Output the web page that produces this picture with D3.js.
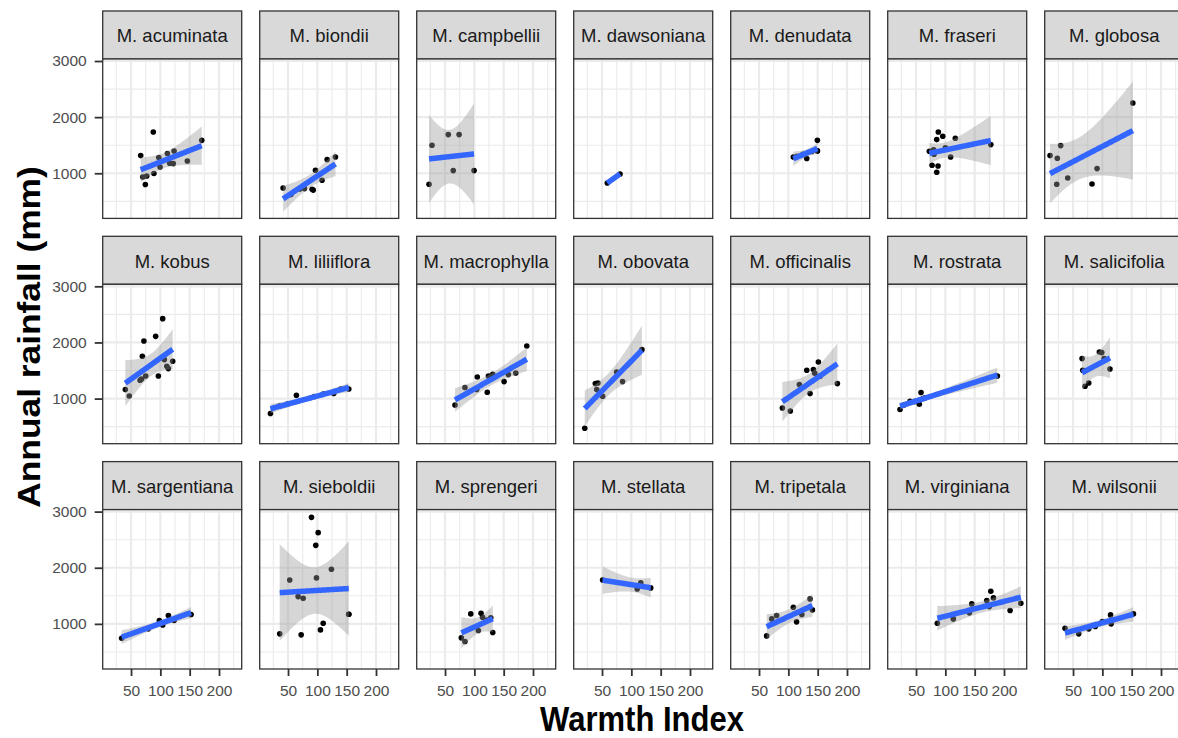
<!DOCTYPE html>
<html>
<head>
<meta charset="utf-8">
<script src="https://cdnjs.cloudflare.com/ajax/libs/d3/7.8.5/d3.min.js"></script>
<style>
    body { margin: 0; background: #fff; }
    text { font-family: 'Liberation Sans', Arial, sans-serif; }
</style>
</head>
<body>
<svg id="chart" width="1178" height="738"></svg>
<script>
(function(window) {
    'use strict';

    /******************************************************************
        data (one entry per species)
     ******************************************************************/
    var species = [
        'M. acuminata', 'M. biondii', 'M. campbellii', 'M. dawsoniana',
        'M. denudata', 'M. fraseri', 'M. globosa',
        'M. kobus', 'M. liliiflora', 'M. macrophylla', 'M. obovata',
        'M. officinalis', 'M. rostrata', 'M. salicifolia',
        'M. sargentiana', 'M. sieboldii', 'M. sprengeri', 'M. stellata',
        'M. tripetala', 'M. virginiana', 'M. wilsonii'
    ];

    // some points sit under the fitted line and are only guessed
    var warmth = [
        [66.5, 88, 70, 74.4, 76.8, 89, 97.3, 99.5, 112, 123.4, 122, 116, 146, 170.6],
        [41.6, 78, 91, 93, 96.8, 108, 116.7, 130.9, 55, 70],
        [22.7, 27.8, 55.6, 74, 64, 99.5],
        [59, 80.7],
        [108.5, 131.4, 149.5, 149.5, 115, 125, 140, 149.5],
        [72.7, 88, 95.6, 85.3, 117, 80.7, 109, 77.3, 87.5, 85.3, 177.5, 80, 100],
        [10.8, 23.2, 29, 22.2, 41, 82.4, 91, 152],
        [40.3, 47, 72, 69.3, 65.4, 75, 92, 104, 96.6, 106.8, 111, 113.6, 121, 68],
        [20, 64.3, 128, 153.6, 35, 50, 95, 110, 140],
        [67, 84, 105, 122, 124, 131.4, 150.7, 158, 170.6, 189.4, 104],
        [20.5, 38.6, 43, 41, 51, 75, 85, 118],
        [89.8, 103.4, 137, 118.8, 131.4, 142.7, 151.2, 154, 183.6, 145],
        [22.7, 39.8, 55.6, 58.5, 62, 188.7, 30, 48, 65],
        [65.4, 94.9, 99, 103, 113, 66.6, 70.5, 76.8],
        [34, 79.5, 98.3, 104, 113.7, 123.4, 152.4],
        [35.8, 52.9, 67.2, 75.8, 72.4, 90, 101.4, 97.3, 98.5, 105.3, 110, 124, 153.6, 153.6],
        [77.8, 84, 93.9, 106.8, 111.4, 114, 131.4, 122, 128],
        [51, 110, 116, 133],
        [63, 80, 108.5, 114, 71.7, 137, 141, 123],
        [86.3, 113.6, 141, 145, 170.6, 175, 177.5, 182, 210.4, 228.7],
        [36.3, 59.7, 76.8, 88, 114, 115, 153, 100]
    ];

    var rainfall = [
        [1315, 1735, 934, 799, 952, 995, 1279, 1112, 1351, 1397, 1172, 1180, 1219, 1587],
        [738, 727, 715, 700, 1053, 875, 1244, 1290, 620, 720],
        [804, 1498, 1689, 1689, 1048, 1048],
        [827, 988],
        [1290, 1262, 1587, 1397, 1302, 1337, 1389, 1400],
        [1392, 1735, 1659, 1600, 1623, 1338, 1290, 1142, 1130, 1018, 1511, 1420, 1452],
        [1315, 1267, 1493, 804, 916, 810, 1083, 2251],
        [1160, 1046, 2025, 1753, 1326, 1403, 2109, 2424, 1403, 1694, 1575, 1534, 1664, 1350],
        [733, 1059, 1089, 1171, 865, 908, 1038, 1081, 1168],
        [886, 1196, 1385, 1112, 1403, 1432, 1302, 1427, 1456, 1936, 1160],
        [471, 1267, 1278, 1160, 1041, 1473, 1302, 1872],
        [833, 779, 1089, 1249, 1504, 1516, 1651, 1397, 1267, 1450],
        [804, 952, 899, 1107, 1000, 1403, 888, 950, 1009],
        [1712, 1830, 1819, 1712, 1527, 1504, 1219, 1278],
        [744, 911, 1059, 982, 1148, 1059, 1166],
        [822, 1783, 1486, 1456, 804, 2898, 2625, 2399, 1819, 893, 1011, 1972, 1171, 1171],
        [751, 685, 1178, 881, 1189, 1117, 845, 1070, 1110],
        [1783, 1623, 1730, 1641],
        [786, 1148, 1296, 1036, 1089, 1445, 1249, 1166],
        [1011, 1089, 1196, 1356, 1415, 1308, 1580, 1463, 1237, 1367],
        [922, 822, 911, 952, 1160, 1000, 1178, 1040]
    ];

    var xTicks = [50, 100, 150, 200],
        xMinor = [25, 75, 125, 175, 225],
        yTicks = [1000, 2000, 3000],
        yMinor = [500, 1500, 2500];

    var xDomain = [1.7, 238.7],
        yDomain = [196, 3036];

    // 97.5% quantile of Student t, by degrees of freedom
    var tCrit = [NaN, 12.706, 4.303, 3.182, 2.776, 2.571, 2.447, 2.365,
                 2.306, 2.262, 2.228, 2.201, 2.179, 2.160, 2.145, 2.131];

    /******************************************************************
        layout
     ******************************************************************/
    var ncol = 7,
        left0 = 102.7, colStep = 157, panelW = 139,
        top0 = 11, rowStep = 225.3, stripH = 48, panelH = 159.4;

    var svg = d3.select('#chart');

    /******************************************************************
        lm fit with 95% confidence band, as geom_smooth(method = 'lm')
     ******************************************************************/
    function lmFit(xs, ys) {
        var n = xs.length,
            mx = d3.mean(xs), my = d3.mean(ys),
            sxx = 0, sxy = 0, sse = 0;

        xs.forEach(function(x, i) {
            sxx += (x - mx) * (x - mx);
            sxy += (x - mx) * (ys[i] - my);
        });
        var b = sxy / sxx, a = my - b * mx;
        xs.forEach(function(x, i) {
            var r = ys[i] - (a + b * x);
            sse += r * r;
        });
        var df = n - 2,
            s = df > 0 ? Math.sqrt(sse / df) : NaN,
            t = tCrit[Math.min(df, tCrit.length - 1)] || NaN,
            ext = d3.extent(xs);

        return d3.range(80).map(function(k) {
            var x = ext[0] + (ext[1] - ext[0]) * k / 79,
                fit = a + b * x,
                se = s * Math.sqrt(1 / n + (x - mx) * (x - mx) / sxx);
            return { x: x, y: fit, lo: fit - t * se, hi: fit + t * se };
        });
    }

    species.forEach(function(name, i) {
        var c = i % ncol,
            r = Math.floor(i / ncol);

        var g = svg.append('g')
            .attr('transform', 'translate(' + [left0 + c * colStep, top0 + r * rowStep] + ')');

        // strip
        g.append('rect')
            .attr('width', panelW).attr('height', stripH)
            .attr('fill', '#d9d9d9')
            .attr('stroke', '#333').attr('stroke-width', 1.3);

        g.append('text')
            .attr('x', panelW / 2).attr('y', 31.3)
            .attr('text-anchor', 'middle')
            .attr('font-size', '18.5px')
            .attr('fill', '#1a1a1a')
            .text(name);

        var p = g.append('g').attr('transform', 'translate(0,' + stripH + ')');

        var x = d3.scaleLinear().domain(xDomain).range([0, panelW]),
            y = d3.scaleLinear().domain(yDomain).range([panelH, 0]);

        p.append('rect')
            .attr('width', panelW).attr('height', panelH)
            .attr('fill', '#fff');

        // grid
        p.selectAll('.vminor').data(xMinor).enter().append('line')
            .attr('x1', x).attr('x2', x).attr('y1', 0).attr('y2', panelH)
            .attr('stroke', '#ebebeb').attr('stroke-width', 1.1);
        p.selectAll('.hminor').data(yMinor).enter().append('line')
            .attr('y1', y).attr('y2', y).attr('x1', 0).attr('x2', panelW)
            .attr('stroke', '#ebebeb').attr('stroke-width', 1.1);
        p.selectAll('.vmajor').data(xTicks).enter().append('line')
            .attr('x1', x).attr('x2', x).attr('y1', 0).attr('y2', panelH)
            .attr('stroke', '#ebebeb').attr('stroke-width', 2.2);
        p.selectAll('.hmajor').data(yTicks).enter().append('line')
            .attr('y1', y).attr('y2', y).attr('x1', 0).attr('x2', panelW)
            .attr('stroke', '#ebebeb').attr('stroke-width', 2.2);

        // points
        var pts = warmth[i].map(function(w, k) { return [w, rainfall[i][k]]; });
        p.selectAll('circle').data(pts).enter().append('circle')
            .attr('cx', function(d) { return x(d[0]); })
            .attr('cy', function(d) { return y(d[1]); })
            .attr('r', 2.8)
            .attr('fill', '#000');

        // smooth
        var fit = lmFit(warmth[i], rainfall[i]);
        if (!isNaN(fit[0].lo)) {
            p.append('path')
                .datum(fit)
                .attr('d', d3.area()
                    .x(function(d) { return x(d.x); })
                    .y0(function(d) { return y(d.lo); })
                    .y1(function(d) { return y(d.hi); }))
                .attr('fill', '#999999').attr('fill-opacity', 0.4);
        }
        p.append('path')
            .datum(fit)
            .attr('d', d3.line()
                .x(function(d) { return x(d.x); })
                .y(function(d) { return y(d.y); }))
            .attr('fill', 'none')
            .attr('stroke', '#3366FF').attr('stroke-width', 5.5);

        p.append('rect')
            .attr('width', panelW).attr('height', panelH)
            .attr('fill', 'none')
            .attr('stroke', '#333').attr('stroke-width', 1.3);

        // axes, only on the outer panels
        if (r === 2) {
            var xa = p.append('g')
                .attr('transform', 'translate(0,' + panelH + ')')
                .call(d3.axisBottom(x).tickValues(xTicks).tickSize(7).tickPadding(9)
                    .tickFormat(d3.format('d')));
            styleAxis(xa);
        }
        if (c === 0) {
            var ya = p.append('g')
                .call(d3.axisLeft(y).tickValues(yTicks).tickSize(8).tickPadding(8)
                    .tickFormat(d3.format('d')));
            styleAxis(ya);
        }
    });

    function styleAxis(a) {
        a.select('.domain').remove();
        a.selectAll('line').attr('stroke', '#333').attr('stroke-width', 1.8);
        a.selectAll('text')
            .attr('fill', '#4d4d4d')
            .style('font-size', '15.5px')
            .style('font-family', "'Liberation Sans', Arial, sans-serif");
    }

    /******************************************************************
        axis titles
     ******************************************************************/
    svg.append('text')
        .attr('transform', 'translate(642,731) scale(1,1.14)')
        .attr('text-anchor', 'middle')
        .attr('font-size', '31px').attr('font-weight', 'bold')
        .text('Warmth Index');

    svg.append('text')
        .attr('transform', 'translate(40,337) scale(1,1.14) rotate(-90)')
        .attr('text-anchor', 'middle')
        .attr('font-size', '31px').attr('font-weight', 'bold')
        .text('Annual rainfall (mm)');

})(window);
</script>
</body>
</html>
